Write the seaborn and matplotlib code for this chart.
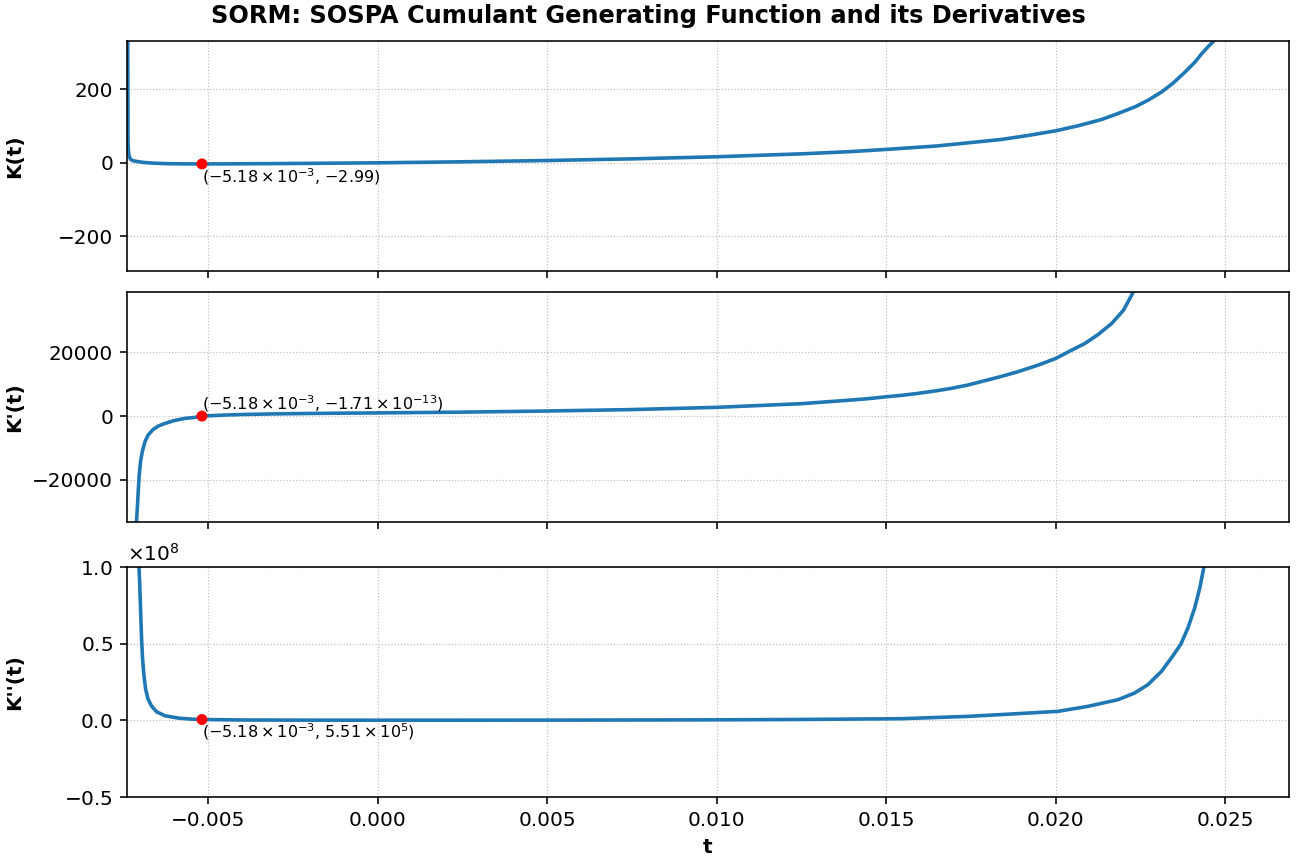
import numpy as np
import pandas as pd
import seaborn as sns
import matplotlib.pyplot as plt
from matplotlib.ticker import ScalarFormatter

# values
t_k = [-0.00738, -0.00736, -0.00735, -0.00733, -0.00729, -0.00722, -0.00711,
       -0.00690, -0.00660, -0.00620, -0.00580, -0.00518, -0.00450, -0.00400,
       -0.00300, -0.00200, -0.00100, 0.0, 0.0025, 0.005, 0.0075, 0.010,
       0.0125, 0.01394, 0.015, 0.0165, 0.01839, 0.01918, 0.020, 0.02066,
       0.02135, 0.02184, 0.02234, 0.02273, 0.02313, 0.02347, 0.02382,
       0.02411, 0.02431, 0.02451, 0.02464, 0.0249]
k_vals = [700, 60, 34, 20, 10, 6, 4,
          1.0, -1.0, -2.3, -2.8, -2.99, -2.85, -2.6,
          -2.1, -1.4, -0.7, 0.0, 2.8, 6.3, 10.8, 16.5,
          24.5, 30.5, 36.5, 46, 63.6, 74.5, 87.3, 101,
          118, 134.5, 152.7, 171, 193.6, 218, 248,
          275, 298, 318, 330, 370]

t_k1 = [-0.00713, -0.00711, -0.00708, -0.00706, -0.00703, -0.00699, -0.00694,
        -0.00686, -0.00677, -0.00662, -0.00647, -0.00627, -0.00598, -0.00568,
        -0.00539, -0.00518, -0.00450, -0.00400, -0.00300, -0.00200, -0.00100,
        0.0, 0.0025, 0.005, 0.0075, 0.010, 0.0125, 0.01394, 0.01444, 0.015,
        0.01542, 0.01592, 0.01641, 0.01691, 0.0174, 0.0179, 0.01839, 0.01888,
        0.01948, 0.020, 0.02047, 0.02086, 0.02125, 0.02165, 0.022, 0.02229,
        0.0225]
k1_vals = [-45000, -33200, -27960, -23770, -18530, -14240, -11200,
           -8060, -5970, -4190, -3140, -2300, -1360, -730,
           -400, 0, 330, 500, 700, 830, 930,
           1000, 1250, 1600, 2050, 2750, 3900, 5030, 5450, 6070,
           6490, 7120, 7850, 8690, 9740, 11100, 12460, 13930,
           16020, 18120, 20730, 22830, 25650, 29110, 33300, 39060,
           43000]

t_k2 = [-0.00706, -0.00704, -0.00702, -0.00700, -0.00698, -0.00696, -0.00693,
        -0.00689, -0.00684, -0.00677, -0.00667, -0.00652, -0.00627, -0.00588,
        -0.00549, -0.00518, -0.00400, -0.00200, 0.0, 0.005, 0.010, 0.0125,
        0.01545, 0.01741, 0.01889, 0.02007, 0.02095, 0.02184, 0.02233,
        0.02272, 0.02312, 0.02341, 0.02369, 0.0239, 0.0241, 0.02425,
        0.02437, 0.0245]
k2_vals = [1.30e8, 1.015e8, 0.918e8, 0.788e8, 0.658e8, 0.528e8, 0.398e8,
           0.290e8, 0.203e8, 0.139e8, 0.0952e8, 0.0563e8, 0.030e8, 0.015e8,
           0.008e8, 5.51e5, 2.5e5, 1.4e5, 1.2e5, 1.6e5, 3.5e5, 6.0e5,
           0.011e8, 0.026e8, 0.044e8, 0.059e8, 0.0915e8, 0.135e8, 0.179e8,
           0.233e8, 0.320e8, 0.407e8, 0.497e8, 0.603e8, 0.734e8, 0.865e8,
           1.0e8, 1.15e8]

saddle_t = -5.18e-3
saddle_vals = [-2.99, -1.71e-13, 5.51e5]
saddle_labels = [r'($-5.18\times10^{-3}$, $-2.99$)',
                 r'($-5.18\times10^{-3}$, $-1.71\times10^{-13}$)',
                 r'($-5.18\times10^{-3}$, $5.51\times10^{5}$)']
y_labels = ["K(t)", "K'(t)", "K''(t)"]
y_limits = [(-295, 332), (-33300, 39000), (-0.5e8, 1.0e8)]
y_ticks = [[-200, 0, 200], [-20000, 0, 20000], [-0.5e8, 0.0, 0.5e8, 1.0e8]]

fig, axes = plt.subplots(3, 1, figsize=(9, 6), dpi=144, sharex=True)

curves = [(t_k, k_vals), (t_k1, k1_vals), (t_k2, k2_vals)]
for i, ax in enumerate(axes):
    tt, vv = curves[i]
    sns.lineplot(x=tt, y=vv, ax=ax, color='#1f77b4', linewidth=1.8)
    sns.scatterplot(x=[saddle_t], y=[saddle_vals[i]], ax=ax, color='red',
                    s=30, edgecolor='none', zorder=5)
    if i == 1:
        ax.annotate(saddle_labels[i], (saddle_t, saddle_vals[i]), xytext=(0, 1),
                    textcoords='offset points', ha='left', va='bottom', fontsize=8)
    else:
        ax.annotate(saddle_labels[i], (saddle_t, saddle_vals[i]), xytext=(0, -1),
                    textcoords='offset points', ha='left', va='top', fontsize=8)
    ax.set_ylabel(y_labels[i], fontweight='bold')
    ax.set_ylim(*y_limits[i])
    ax.set_yticks(y_ticks[i])
    ax.grid(True, linestyle=':', linewidth=0.6, color='#b0b0b0', alpha=0.8)

fmt = ScalarFormatter(useMathText=True)
fmt.set_powerlimits((0, 0))
axes[2].yaxis.set_major_formatter(fmt)

axes[2].set_xlim(-0.00739, 0.02688)
axes[2].set_xticks([-0.005, 0.0, 0.005, 0.010, 0.015, 0.020, 0.025])
axes[2].set_xlabel('t', fontweight='bold')

fig.suptitle('SORM: SOSPA Cumulant Generating Function and its Derivatives',
             fontweight='bold', fontsize=12, y=0.981, va='center')

# panel boxes as in the reference
left, width, height = 0.098, 0.8966, 0.2662
axes[0].set_position([left, 0.6863, width, height])
axes[1].set_position([left, 0.3958, width, height])
axes[2].set_position([left, 0.0775, width, height])
fig.align_ylabels(axes)

fig.savefig('out.png')
